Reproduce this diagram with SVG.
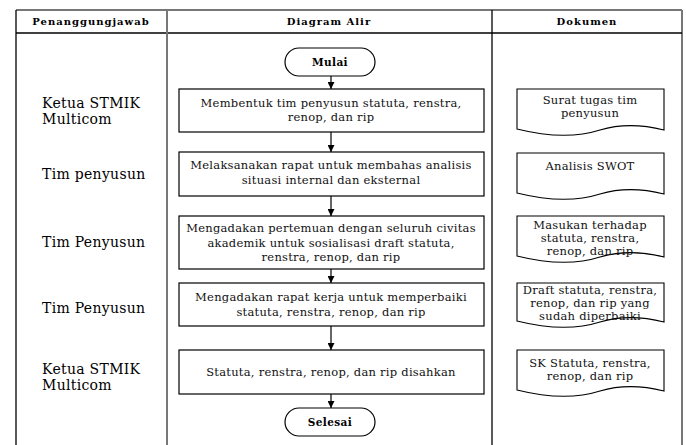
<svg xmlns="http://www.w3.org/2000/svg" width="686" height="445" viewBox="0 0 686 445">
  <defs>
    <marker id="arrow" viewBox="0 0 10 10" refX="10" refY="5" markerWidth="7" markerHeight="7" orient="auto" markerUnits="userSpaceOnUse">
      <path d="M0,0 L10,5 L0,10 Z" fill="#000"/>
    </marker>
    <style>
      .grid { stroke: #000; stroke-width: 1.3; fill: none; }
      .grid-gray { stroke: #777; stroke-width: 2; fill: none; }
      .head { font-family: "DejaVu Serif", "Liberation Serif", serif; font-weight: bold; font-size: 10px; letter-spacing: 1px; text-anchor: middle; fill: #000; }
      .role { font-family: "DejaVu Serif", "Liberation Serif", serif; font-size: 14px; letter-spacing: 0.3px; fill: #000; }
      .box { fill: #fff; stroke: #000; stroke-width: 1.2; }
      .term { fill: #fff; stroke: #000; stroke-width: 1.2; }
      .txt { font-family: "DejaVu Serif", "Liberation Serif", serif; font-size: 11.5px; letter-spacing: 0.25px; text-anchor: middle; fill: #111; }
      .ttxt { font-family: "DejaVu Serif", "Liberation Serif", serif; font-weight: bold; font-size: 10.5px; letter-spacing: 0.4px; text-anchor: middle; fill: #000; }
      .doc { fill: #fff; stroke: #000; stroke-width: 1.1; }
      .flow { stroke: #000; stroke-width: 1.2; fill: none; marker-end: url(#arrow); }
    </style>
  </defs>

  <!-- table frame -->
  <g id="table">
    <rect x="0" y="0" width="686" height="445" fill="#fff"/>
    <line class="grid-gray" x1="16" y1="10" x2="682" y2="10"/>
    <line class="grid" x1="16" y1="10" x2="16" y2="445"/>
    <line class="grid-gray" x1="682" y1="10" x2="682" y2="445"/>
    <line class="grid" x1="16" y1="33" x2="682" y2="33"/>
    <line class="grid-gray" x1="167" y1="10" x2="167" y2="445"/>
    <line class="grid" x1="492" y1="10" x2="492" y2="445"/>
    <text class="head" x="91" y="25">Penanggungjawab</text>
    <text class="head" x="329" y="25">Diagram Alir</text>
    <text class="head" x="587" y="25">Dokumen</text>
  </g>

  <!-- responsible parties -->
  <g id="roles">
    <text class="role" x="42" y="108">Ketua STMIK</text>
    <text class="role" x="42" y="124">Multicom</text>
    <text class="role" x="42" y="179">Tim penyusun</text>
    <text class="role" x="42" y="247">Tim Penyusun</text>
    <text class="role" x="42" y="313">Tim Penyusun</text>
    <text class="role" x="42" y="374">Ketua STMIK</text>
    <text class="role" x="42" y="390">Multicom</text>
  </g>

  <!-- connectors -->
  <g id="connectors">
    <line class="flow" x1="331" y1="76" x2="331" y2="89"/>
    <line class="flow" x1="331" y1="132" x2="331" y2="152"/>
    <line class="flow" x1="331" y1="196" x2="331" y2="216"/>
    <line class="flow" x1="331" y1="269" x2="331" y2="283"/>
    <line class="flow" x1="331" y1="326" x2="331" y2="350"/>
    <line class="flow" x1="331" y1="394" x2="331" y2="408"/>
  </g>

  <g id="start">
    <rect class="term" x="285" y="48" width="90" height="28" rx="14" ry="14"/>
    <text class="ttxt" x="330" y="65.5">Mulai</text>
  </g>

  <g id="step1">
    <rect class="box" x="179" y="89" width="305" height="43"/>
    <text class="txt" x="331" y="107">Membentuk tim penyusun statuta, renstra,</text>
    <text class="txt" x="331" y="121">renop, dan rip</text>
  </g>

  <g id="step2">
    <rect class="box" x="179" y="152" width="305" height="44"/>
    <text class="txt" x="331" y="169">Melaksanakan rapat untuk membahas analisis</text>
    <text class="txt" x="331" y="184">situasi internal dan eksternal</text>
  </g>

  <g id="step3">
    <rect class="box" x="179" y="216" width="305" height="53"/>
    <text class="txt" x="331" y="232">Mengadakan pertemuan dengan seluruh civitas</text>
    <text class="txt" x="331" y="246.5">akademik untuk sosialisasi draft statuta,</text>
    <text class="txt" x="331" y="261">renstra, renop, dan rip</text>
  </g>

  <g id="step4">
    <rect class="box" x="179" y="283" width="305" height="43"/>
    <text class="txt" x="331" y="301">Mengadakan rapat kerja untuk memperbaiki</text>
    <text class="txt" x="331" y="316">statuta, renstra, renop, dan rip</text>
  </g>

  <g id="step5">
    <rect class="box" x="179" y="350" width="305" height="44"/>
    <text class="txt" x="331" y="376">Statuta, renstra, renop, dan rip disahkan</text>
  </g>

  <g id="end">
    <rect class="term" x="285" y="408" width="90" height="28" rx="14" ry="14"/>
    <text class="ttxt" x="330" y="425.5">Selesai</text>
  </g>

  <!-- documents: straight top and sides, wavy lower edge -->
  <g id="doc1">
    <path class="doc" d="M517,89 H664 V130 C640,124 620,124 600,130 C575,138 545,136 517,129 Z"/>
    <text class="txt" x="590" y="104">Surat tugas tim</text>
    <text class="txt" x="590" y="117">penyusun</text>
  </g>

  <g id="doc2">
    <path class="doc" d="M517,153 H664 V194 C640,188 620,188 600,194 C575,202 545,200 517,193 Z"/>
    <text class="txt" x="590" y="170">Analisis SWOT</text>
  </g>

  <g id="doc3">
    <path class="doc" d="M517,216 H664 V257 C640,251 620,251 600,257 C575,265 545,263 517,256 Z"/>
    <text class="txt" x="590" y="229">Masukan terhadap</text>
    <text class="txt" x="590" y="242">statuta, renstra,</text>
    <text class="txt" x="590" y="255">renop, dan rip</text>
  </g>

  <g id="doc4">
    <path class="doc" d="M517,283 H664 V322 C640,316 620,316 600,322 C575,330 545,328 517,321 Z"/>
    <text class="txt" x="590" y="294">Draft statuta, renstra,</text>
    <text class="txt" x="590" y="307">renop, dan rip yang</text>
    <text class="txt" x="590" y="320">sudah diperbaiki</text>
  </g>

  <g id="doc5">
    <path class="doc" d="M517,350 H664 V391 C640,385 620,385 600,391 C575,399 545,397 517,390 Z"/>
    <text class="txt" x="590" y="367">SK Statuta, renstra,</text>
    <text class="txt" x="590" y="380">renop, dan rip</text>
  </g>
</svg>
